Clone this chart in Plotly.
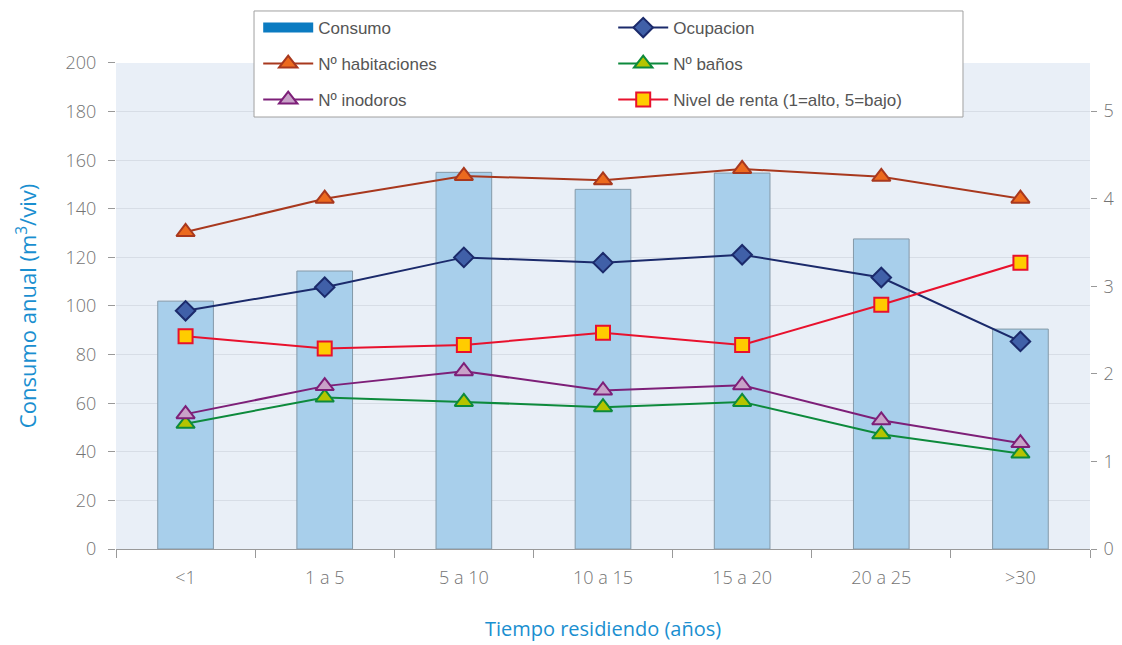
import plotly.graph_objects as go

# data
categorias = ['<1', '1 a 5', '5 a 10', '10 a 15', '15 a 20', '20 a 25', '>30']
consumo = [102, 114.4, 155, 148, 154.7, 127.6, 90.5]
ocupacion = [2.72, 2.99, 3.33, 3.27, 3.36, 3.10, 2.37]
habitaciones = [3.62, 4.00, 4.26, 4.21, 4.34, 4.25, 4.00]
banos = [1.43, 1.73, 1.68, 1.62, 1.68, 1.31, 1.09]
inodoros = [1.54, 1.86, 2.03, 1.81, 1.87, 1.47, 1.21]
renta = [2.43, 2.29, 2.33, 2.47, 2.33, 2.79, 3.27]

fig = go.Figure()

fig.add_trace(go.Bar(
    x=categorias, y=consumo, name='Consumo', width=0.4, showlegend=False,
    marker=dict(color='#a8cfeb', line=dict(color='#8499a8', width=1)),
))
# legend-only entry so the key looks like the solid blue bar swatch
fig.add_trace(go.Scatter(
    x=[None], y=[None], name='Consumo', mode='lines', legend='legend',
    line=dict(color='#0b7bc1', width=10),
))


def linea(y, name, line_color, fill, symbol, size, leg):
    return go.Scatter(
        x=categorias, y=y, name=name, yaxis='y2', mode='lines+markers',
        legend=leg,
        line=dict(color=line_color, width=2),
        marker=dict(symbol=symbol, size=size, color=fill,
                    line=dict(color=line_color, width=2)),
    )


fig.add_trace(linea(ocupacion, 'Ocupacion', '#1b2a6b', '#4060a8', 'diamond', 15, 'legend'))
fig.add_trace(linea(habitaciones, 'Nº habitaciones', '#a8381e', '#ec6a1e', 'triangle-up', 16, 'legend2'))
fig.add_trace(linea(banos, 'Nº baños', '#0d8a3c', '#b5c400', 'triangle-up', 16, 'legend2'))
fig.add_trace(linea(inodoros, 'Nº inodoros', '#7d1f78', '#c8a2c8', 'triangle-up', 16, 'legend3'))
fig.add_trace(linea(renta, 'Nivel de renta (1=alto, 5=bajo)', '#e8112d', '#ffcc00', 'square', 14, 'legend3'))

tick_font = dict(family='Open Sans', size=18, color='#747474', weight=300)
title_font = dict(family='Open Sans', size=20, color='#1a8fd0')
legend_font = dict(family='Liberation Sans', size=17, color='#555555')


def fila(y):
    return dict(
        orientation='h', entrywidth=290, entrywidthmode='pixels', itemwidth=50,
        x=0.146, xanchor='left', y=y, yanchor='middle',
        bgcolor='rgba(0,0,0,0)', borderwidth=0, font=legend_font,
    )


# small top margin + y domain keeps the legend inside the paper (no margin push)
fig.update_layout(
    width=1122, height=645,
    margin=dict(l=116, r=32, t=5, b=96),
    paper_bgcolor='white',
    plot_bgcolor='#e9eff7',
    showlegend=True,
    legend=fila(0.9577),
    legend2=fila(0.8915),
    legend3=fila(0.8254),
    shapes=[dict(
        type='rect', xref='paper', yref='paper', layer='above',
        x0=0.1417, x1=0.8696, y0=0.7941, y1=0.9890,
        fillcolor='white', line=dict(color='#a0a0a0', width=1),
    )],
    xaxis=dict(
        tickfont=tick_font, ticks='outside', tickson='boundaries', ticklen=8,
        tickcolor='#999999', showline=True, linecolor='#999999', automargin=False,
        ticklabelstandoff=12,
        title=dict(text='Tiempo residiendo (años)', font=title_font, standoff=34),
    ),
    yaxis=dict(
        domain=[0, 0.8934],
        range=[0, 200], dtick=20, tickfont=tick_font, automargin=False,
        ticks='outside', ticklen=7, tickcolor='#999999', ticklabelstandoff=8,
        gridcolor='#d7dde6', zeroline=False,
        title=dict(text='Consumo anual (m<sup>3</sup>/viv)',
                   font=dict(family='Open Sans', size=22, color='#1a8fd0'), standoff=22),
    ),
    yaxis2=dict(
        overlaying='y', side='right', range=[0, 5.55], dtick=1, automargin=False,
        tickfont=tick_font, ticks='outside', ticklen=6, tickcolor='#999999',
        ticklabelstandoff=3, showgrid=False, zeroline=False,
    ),
)

fig.write_html(
    'out.html',
    config={'displayModeBar': False},
    post_script="document.body.style.margin='0';document.documentElement.style.overflow='hidden';",
)
